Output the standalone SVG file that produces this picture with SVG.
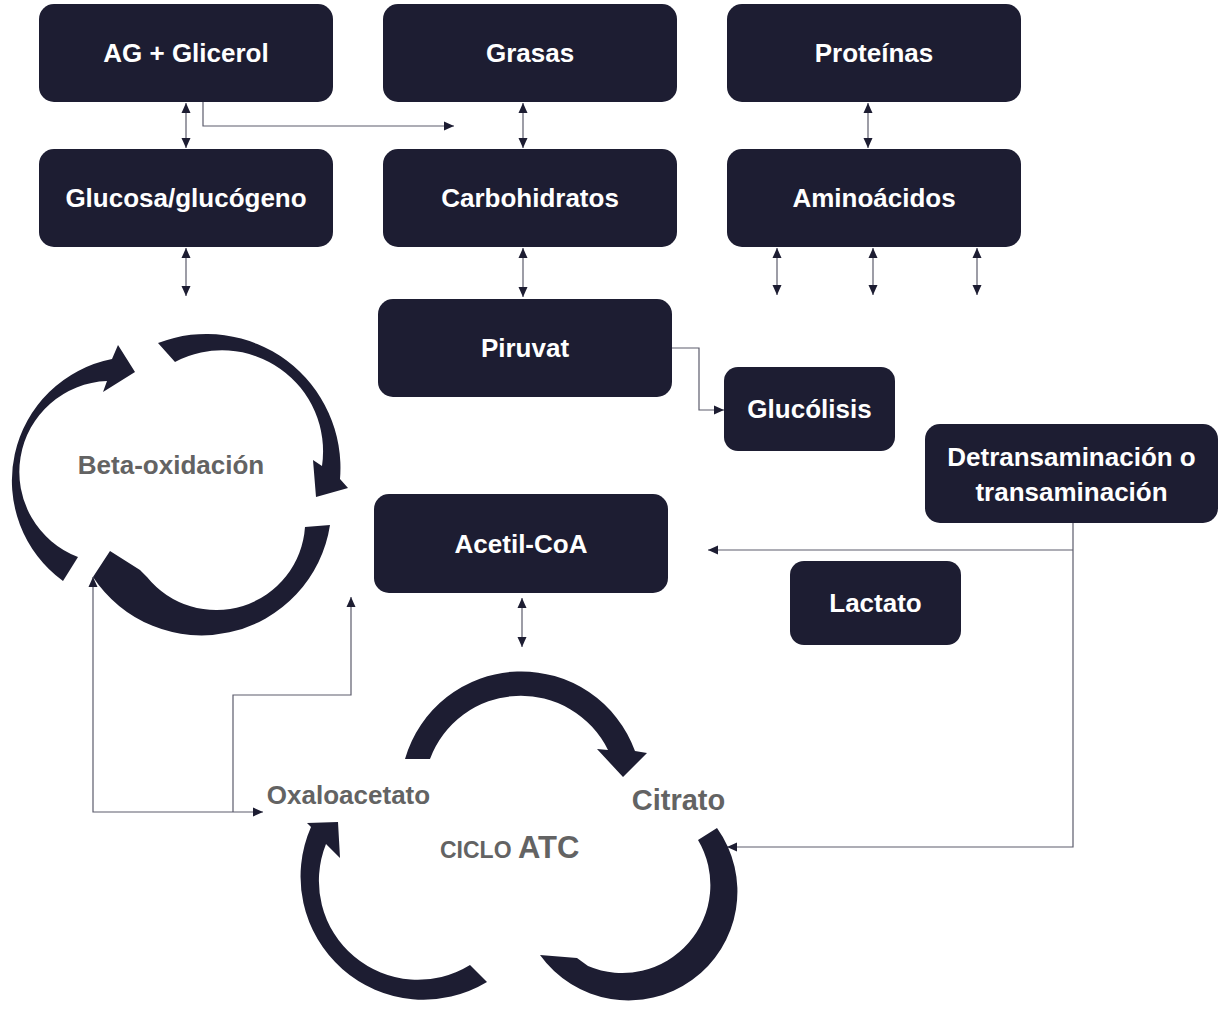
<svg xmlns="http://www.w3.org/2000/svg" width="1225" height="1014" viewBox="0 0 1225 1014">
<defs>
<style>
.box{fill:#1d1d32;}
.bt{fill:#ffffff;font-family:"Liberation Sans",Arial,sans-serif;font-weight:bold;font-size:26px;text-anchor:middle;}
.gt{fill:#636363;font-family:"Liberation Sans",Arial,sans-serif;font-weight:bold;}
.ln{fill:none;stroke:#5c5c6c;stroke-width:1.2;}
.ca{fill:#1d1d32;}
</style>
<marker id="ah" viewBox="0 0 10 10" refX="10" refY="5" markerWidth="10" markerHeight="10" markerUnits="userSpaceOnUse" orient="auto-start-reverse">
<path d="M0,0.5 L10,5 L0,9.5 Z" fill="#1d1d32"/>
</marker>
</defs>
<rect width="1225" height="1014" fill="#ffffff"/>

<g id="connectors">
<path class="ln" d="M186,103 V148" marker-start="url(#ah)" marker-end="url(#ah)"/>
<path class="ln" d="M523,103 V148" marker-start="url(#ah)" marker-end="url(#ah)"/>
<path class="ln" d="M868,103 V148" marker-start="url(#ah)" marker-end="url(#ah)"/>
<path class="ln" d="M186,248 V296" marker-start="url(#ah)" marker-end="url(#ah)"/>
<path class="ln" d="M523,248 V297" marker-start="url(#ah)" marker-end="url(#ah)"/>
<path class="ln" d="M777,248 V295" marker-start="url(#ah)" marker-end="url(#ah)"/>
<path class="ln" d="M873,248 V295" marker-start="url(#ah)" marker-end="url(#ah)"/>
<path class="ln" d="M977,248 V295" marker-start="url(#ah)" marker-end="url(#ah)"/>
<path class="ln" d="M522,598 V647" marker-start="url(#ah)" marker-end="url(#ah)"/>
<path class="ln" d="M203,102 V126 H454" marker-end="url(#ah)"/>
<path class="ln" d="M672,348 H699 V410 H724" marker-end="url(#ah)"/>
<path class="ln" d="M1073,523 V847 H727" marker-end="url(#ah)"/>
<path class="ln" d="M1073,550 H708" marker-end="url(#ah)"/>
<path class="ln" d="M93,577 V812 H263" marker-start="url(#ah)" marker-end="url(#ah)"/>
<path class="ln" d="M233,812 V695 H351 V597" marker-end="url(#ah)"/>
</g>

<g id="n-ag"><rect class="box" x="39" y="4" width="294" height="98" rx="15"/><text class="bt" x="186" y="62">AG + Glicerol</text></g>
<g id="n-grasas"><rect class="box" x="383" y="4" width="294" height="98" rx="15"/><text class="bt" x="530" y="62">Grasas</text></g>
<g id="n-proteinas"><rect class="box" x="727" y="4" width="294" height="98" rx="15"/><text class="bt" x="874" y="62">Proteínas</text></g>
<g id="n-glucosa"><rect class="box" x="39" y="149" width="294" height="98" rx="15"/><text class="bt" x="186" y="207">Glucosa/glucógeno</text></g>
<g id="n-carbo"><rect class="box" x="383" y="149" width="294" height="98" rx="15"/><text class="bt" x="530" y="207">Carbohidratos</text></g>
<g id="n-amino"><rect class="box" x="727" y="149" width="294" height="98" rx="15"/><text class="bt" x="874" y="207">Aminoácidos</text></g>
<g id="n-piruvat"><rect class="box" x="378" y="299" width="294" height="98" rx="15"/><text class="bt" x="525" y="357">Piruvat</text></g>
<g id="n-glucolisis"><rect class="box" x="724" y="367" width="171" height="84" rx="14"/><text class="bt" x="809.5" y="418">Glucólisis</text></g>
<g id="n-detrans"><rect class="box" x="925" y="424" width="293" height="99" rx="15"/><text class="bt" x="1071.5" y="466">Detransaminación o</text><text class="bt" x="1071.5" y="501">transaminación</text></g>
<g id="n-acetil"><rect class="box" x="374" y="494" width="294" height="99" rx="15"/><text class="bt" x="521" y="553">Acetil-CoA</text></g>
<g id="n-lactato"><rect class="box" x="790" y="561" width="171" height="84" rx="14"/><text class="bt" x="875.5" y="612">Lactato</text></g>

<g id="beta-oxidacion">
<path class="ca" d="M63,581 A124,124 0 0 1 112,359 L118,345 L135,372 L103,392 L107,381 A91,91 0 0 0 78,557 Z"/>
<path class="ca" d="M158,343 A134,134 0 0 1 340,479 L348,488 L316,497 L313,460 L322,466 A101,101 0 0 0 175,362 Z"/>
<path class="ca" d="M330,525 A130,130 0 0 1 93,577 L110,551 L140,570 L147,577 A89,89 0 0 0 305,527 Z"/>
<text class="gt" x="171" y="474" font-size="26" text-anchor="middle">Beta-oxidación</text>
</g>

<g id="ciclo-atc">
<path class="ca" d="M405,759 A121,121 0 0 1 635,751 L647,753 L623,777 L597,749 L608,750 A97,97 0 0 0 430,759 Z"/>
<path class="ca" d="M717,828 A107,107 0 0 1 540,955 L577,958 L588,966 A88,88 0 0 0 698,840 Z"/>
<path class="ca" d="M487,982 A123,123 0 0 1 311,827 L307,823 L338,822 L340,858 L326,844 A99,99 0 0 0 470,965 Z"/>
<text class="gt" x="348.5" y="804" font-size="26" text-anchor="middle">Oxaloacetato</text>
<text class="gt" x="678.5" y="810" font-size="29" text-anchor="middle">Citrato</text>
<text class="gt" x="440" y="858"><tspan font-size="23">CICLO </tspan><tspan font-size="31">ATC</tspan></text>
</g>
</svg>
